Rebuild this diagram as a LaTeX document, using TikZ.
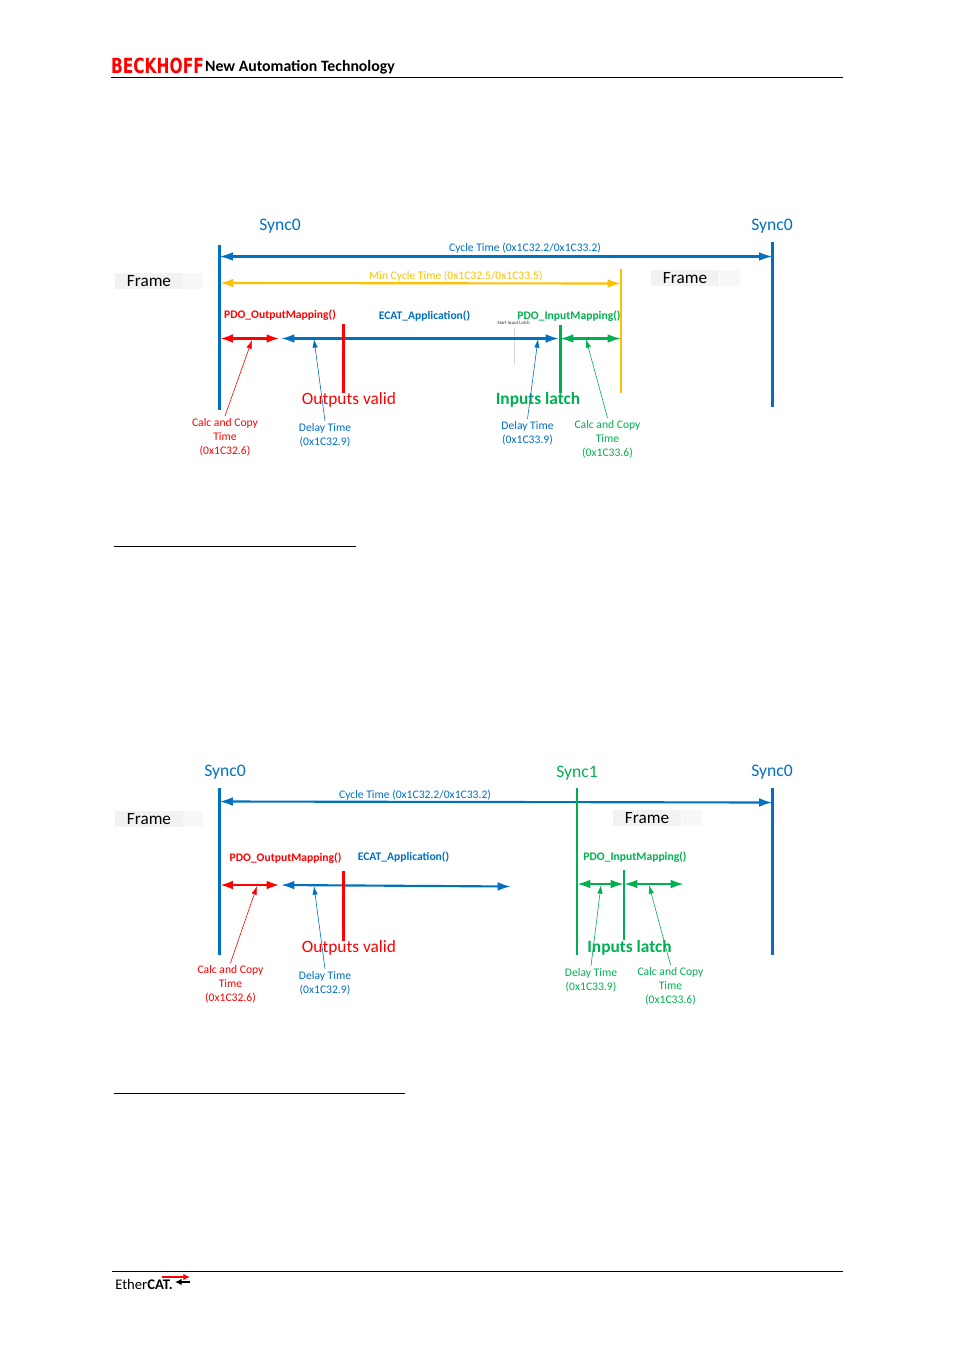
\documentclass[tikz,border=0pt]{standalone}
\usepackage{fontspec}
\setmainfont{Carlito}
\newfontfamily\logofont{DejaVu Sans}[BoldFont={DejaVu Sans Bold}]
\usetikzlibrary{arrows.meta}
\definecolor{bhblue}{RGB}{0,112,192}
\definecolor{bhgreen}{RGB}{0,176,80}
\definecolor{bhyellow}{RGB}{255,192,0}
\definecolor{bhred}{RGB}{255,0,0}
\definecolor{framegray}{RGB}{242,242,242}
\tikzset{
  small/.style={font=\fontsize{8.7}{10.5}\selectfont,align=center,inner sep=0pt},
  func/.style={font=\fontsize{8.7}{9}\selectfont\bfseries,inner sep=0pt},
  sync/.style={font=\fontsize{13.2}{14}\selectfont,text=bhblue,inner sep=0pt},
  event/.style={font=\fontsize{13}{14}\selectfont,inner sep=0pt},
  eventb/.style={font=\fontsize{13}{14}\selectfont\bfseries,inner sep=0pt},
  framebox/.style={fill=framegray,minimum width=51pt,minimum height=12pt,inner sep=0pt,
    font=\fontsize{12.9}{14}\selectfont},
  framefade/.style={fill=framegray!50,minimum width=15pt,minimum height=12pt,inner sep=0pt},
  bar/.style={line width=1.9pt},
  span/.style={line width=1.6pt,{Latex[length=10pt,width=6.5pt]}-{Latex[length=10pt,width=6.5pt]}},
  pointer/.style={line width=0.45pt,-{Latex[length=6.5pt,width=4pt]}},
  rule/.style={line width=0.6pt,black}
}
\begin{document}
\begin{tikzpicture}[x=0.75pt,y=-0.75pt]
\useasboundingbox (0,0) rectangle (954,1350);
%header
\node[inner sep=0pt,text=bhred,font=\logofont\fontsize{14.5}{16}\selectfont\bfseries,xscale=0.8,yscale=1.08] (logo) at (157.5,65.5) {BECKHOFF};
\node[inner sep=0pt,font=\fontsize{11.85}{14}\selectfont\bfseries] (slogan) at (300,67) {New Automation Technology};
\coordinate (headl) at (111,77.5);
\coordinate (headr) at (843,77.5);
\draw[rule] (headl) -- (headr);
%footer
\coordinate (footl) at (112,1271.5);
\coordinate (footr) at (843,1271.5);
\draw[rule] (footl) -- (footr);
\node[inner sep=0pt,font=\fontsize{11}{12}\selectfont] (ethercat) at (144,1284) {Ether\textbf{CAT.}};
\coordinate (cata) at (162,1277);
\coordinate (catb) at (190,1277);
\coordinate (catc) at (175,1282);
\coordinate (catd) at (190,1282);
\draw[line width=1.5pt,bhred,-{Latex[length=5pt,width=5pt]}] (cata) -- (catb);
\draw[line width=1.4pt,black,{Latex[length=5pt,width=5pt]}-] (catc) -- (catd);

%first diagram
\coordinate (rulea) at (114,546.5);
\coordinate (ruleb) at (356,546.5);
\draw[rule] (rulea) -- (ruleb);
\node[framebox] (frameA) at (149,281) {Frame};
\node[framefade] (fadeA) at (193,281) {};
\node[framebox] (frameB) at (685,278) {Frame};
\node[framefade] (fadeB) at (730,278) {};
\node[sync] (syncA) at (280,226) {Sync0};
\node[sync] (syncB) at (772,226) {Sync0};
%sync lines
\coordinate (s0top) at (219.5,245);
\coordinate (s0bot) at (219.5,410);
\coordinate (s1top) at (772.5,242);
\coordinate (s1bot) at (772.5,407);
\draw[bar,bhblue] (s0top) -- (s0bot);
\draw[bar,bhblue] (s1top) -- (s1bot);
\coordinate (ymtop) at (621,269);
\coordinate (ymbot) at (621,393);
\draw[bar,bhyellow] (ymtop) -- (ymbot);
%cycle time
\coordinate (cl) at (219.5,256.5);
\coordinate (cr) at (772.5,256.5);
\draw[span,bhblue] (cl) -- (cr);
\node[small,text=bhblue] (cyc) at (525,248.5) {Cycle Time (0x1C32.2/0x1C33.2)};
\coordinate (ml) at (220,283);
\coordinate (mr) at (621,283.5);
\draw[span,bhyellow] (ml) -- (mr);
\node[small,text=bhyellow] (mincyc) at (456,276.5) {Min Cycle Time (0x1C32.5/0x1C33.5)};
%functions
\node[func,text=bhred] (outmap) at (280,315) {PDO\_OutputMapping()};
\node[func,text=bhblue] (app) at (424.5,316) {ECAT\_Application()};
\node[func,text=bhgreen] (inmap) at (569,316) {PDO\_InputMapping()};
\node[inner sep=0pt,font=\fontsize{3.6}{4}\selectfont,text=black!80] (startlatch) at (513.5,323.5) {Start Input Latch};
\coordinate (sla) at (514,328);
\coordinate (slb) at (514,365);
\draw[line width=0.6pt,black!15] (sla) -- (slb);
\coordinate (ra) at (219.5,338.5);
\coordinate (rb) at (280,338.5);
\coordinate (ba) at (281,338.5);
\coordinate (bb) at (559,338.5);
\coordinate (ga) at (560,338.5);
\coordinate (gb) at (621,338.5);
\draw[span,bhred,line width=2pt] (ra) -- (rb);
\draw[span,bhblue] (ba) -- (bb);
\draw[span,bhgreen] (ga) -- (gb);
\coordinate (ova) at (343.5,324);
\coordinate (ovb) at (343.5,393);
\draw[bar,bhred] (ova) -- (ovb);
\coordinate (ila) at (560.5,325);
\coordinate (ilb) at (560.5,393);
\draw[bar,bhgreen] (ila) -- (ilb);
\node[event,text=bhred] (outvalid) at (349,400) {Outputs valid};
\node[eventb,text=bhgreen] (inlatch) at (538,400) {Inputs latch};
%time labels
\node[small,text=bhred] (calcA) at (225,437) {Calc and Copy\\Time\\(0x1C32.6)};
\node[small,text=bhblue] (delA) at (325,435) {Delay Time\\(0x1C32.9)};
\node[small,text=bhblue] (delB) at (527.5,433) {Delay Time\\(0x1C33.9)};
\node[small,text=bhgreen] (calcB) at (607.5,439) {Calc and Copy\\Time\\(0x1C33.6)};
\coordinate (pa) at (252,340);
\coordinate (pb) at (314,339);
\coordinate (pc) at (538,339);
\coordinate (pd) at (586,339);
\draw[pointer,bhred] (calcA.north) ++(0,-2) -- (pa);
\draw[pointer,bhblue] (delA.north) ++(0,-2) -- (pb);
\draw[pointer,bhblue] (delB.north) ++(0,-2) -- (pc);
\draw[pointer,bhgreen] (calcB.north) ++(0,-2) -- (pd);

%second diagram
\coordinate (rulec) at (114,1093.5);
\coordinate (ruled) at (405,1093.5);
\draw[rule] (rulec) -- (ruled);
\node[framebox] (frameC) at (149,819) {Frame};
\node[framefade] (fadeC) at (193,819) {};
\node[framebox] (frameD) at (647,818) {Frame};
\node[framefade] (fadeD) at (692,818) {};
\node[sync] (syncC) at (225,772) {Sync0};
\node[sync,text=bhgreen] (syncD) at (577,773) {Sync1};
\node[sync] (syncE) at (772,772) {Sync0};
%sync lines
\coordinate (t0top) at (219.5,788);
\coordinate (t0bot) at (219.5,955);
\coordinate (t1top) at (577,788);
\coordinate (t1bot) at (577,955);
\coordinate (t2top) at (772.5,788);
\coordinate (t2bot) at (772.5,955);
\draw[bar,bhblue] (t0top) -- (t0bot);
\draw[bar,bhblue] (t2top) -- (t2bot);
%cycle time
\coordinate (dl) at (219.5,801.5);
\coordinate (dr) at (772.5,802.5);
\draw[span,bhblue] (dl) -- (dr);
\draw[bar,bhgreen] (t1top) -- (t1bot);
\node[small,text=bhblue] (cycb) at (415,795) {Cycle Time (0x1C32.2/0x1C33.2)};
%functions
\node[func,text=bhred] (outmapb) at (285.5,858) {PDO\_OutputMapping()};
\node[func,text=bhblue] (appb) at (403.5,857) {ECAT\_Application()};
\node[func,text=bhgreen] (inmapb) at (635,857) {PDO\_InputMapping()};
\coordinate (qa) at (219.5,885);
\coordinate (qb) at (280,885);
\coordinate (qc) at (281,885);
\coordinate (qd) at (511,886.5);
\coordinate (qe) at (577,884);
\coordinate (qf) at (624,884);
\coordinate (qg) at (624,884);
\coordinate (qh) at (684,884);
\draw[span,bhred,line width=2pt] (qa) -- (qb);
\draw[span,bhblue] (qc) -- (qd);
\draw[span,bhgreen] (qe) -- (qf);
\draw[span,bhgreen] (qg) -- (qh);
\coordinate (ovc) at (343.5,871);
\coordinate (ovd) at (343.5,941);
\draw[bar,bhred] (ovc) -- (ovd);
\coordinate (ilc) at (624,870);
\coordinate (ild) at (624,940);
\draw[bar,bhgreen] (ilc) -- (ild);
\node[event,text=bhred] (outvalidb) at (349,948) {Outputs valid};
\node[eventb,text=bhgreen] (inlatchb) at (629.5,948) {Inputs latch};
%time labels
\node[small,text=bhred] (calcC) at (230.5,984) {Calc and Copy\\Time\\(0x1C32.6)};
\node[small,text=bhblue] (delC) at (325,983) {Delay Time\\(0x1C32.9)};
\node[small,text=bhgreen] (delD) at (591,980) {Delay Time\\(0x1C33.9)};
\node[small,text=bhgreen] (calcD) at (670.5,986) {Calc and Copy\\Time\\(0x1C33.6)};
\coordinate (pe) at (257,886);
\coordinate (pf) at (314,886);
\coordinate (pg) at (601,885);
\coordinate (ph) at (649,885);
\draw[pointer,bhred] (calcC.north) ++(0,-2) -- (pe);
\draw[pointer,bhblue] (delC.north) ++(0,-2) -- (pf);
\draw[pointer,bhgreen] (delD.north) ++(0,-2) -- (pg);
\draw[pointer,bhgreen] (calcD.north) ++(0,-2) -- (ph);
\end{tikzpicture}
\end{document}
